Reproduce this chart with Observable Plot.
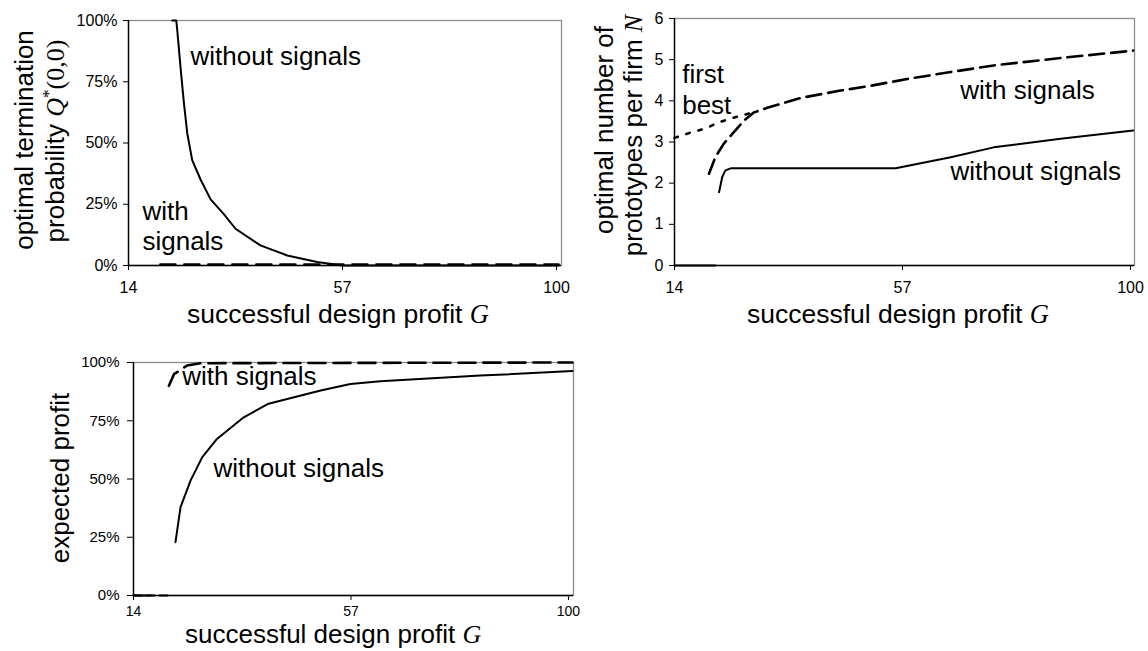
<!DOCTYPE html>
<html><head><meta charset="utf-8">
<script src="https://cdn.jsdelivr.net/npm/d3@7"></script>
<script src="https://cdn.jsdelivr.net/npm/@observablehq/plot@0.6"></script>
<style>
body{margin:0;background:#fff;}
#wrap{position:relative;width:1148px;height:651px;overflow:hidden;background:#fff;}
#wrap svg{position:absolute;}
</style></head><body><div id="wrap"></div>
<script>
const FONT = '"Liberation Sans", Arial, sans-serif';
const SERIF = '"Liberation Serif", "Times New Roman", serif';

// ---------- shared ----------
const xTickValues = [14, 57, 100];
const pctTicks = [0, 25, 50, 75, 100];
const nTicks = [0, 1, 2, 3, 4, 5, 6];

// ---------- Panel 1: optimal termination probability Q*(0,0) (%) ----------
const p1WithoutG = [22.8, 23.6, 23.8, 24.45, 25.1, 25.8, 26.8, 28.5, 30.5, 33.15, 35.5, 40.5, 45.9, 51.9, 57, 100.4];
const p1WithoutQ = [100, 100, 96, 81, 67, 54, 43, 35, 27, 21, 15, 8.2, 4.1, 1.4, 0, 0];
const p1WithG = [20.4, 100.4];
const p1WithQ = [0, 0];

// ---------- Panel 2: optimal number of prototypes per firm N ----------
const p2FirstBestG = [14, 17.3, 19.9, 22.4, 24.9, 27.1, 28.3];
const p2FirstBestN = [3.1, 3.24, 3.33, 3.48, 3.58, 3.66, 3.7];
const p2WithG = [20.5, 21.7, 23.3, 25.2, 27.1, 29, 31.5, 37.8, 45.3, 50.3, 57.9, 66.1, 74.2, 86.8, 100.5];
const p2WithN = [2.23, 2.63, 2.96, 3.24, 3.52, 3.72, 3.83, 4.07, 4.25, 4.35, 4.53, 4.7, 4.86, 5.04, 5.22];
const p2WithoutG = [22.4, 23, 23.6, 24.6, 55.7, 66.1, 74.2, 86.8, 100.5];
const p2WithoutN = [1.78, 2.15, 2.31, 2.36, 2.36, 2.63, 2.87, 3.08, 3.28];
const p2ZeroG = [14, 21.7];
const p2ZeroN = [0, 0];

// ---------- Panel 3: expected profit (%) ----------
const p3WithoutG = [22.3, 23.3, 25.3, 27.6, 30.5, 35.8, 40.7, 51, 56.9, 62.8, 82.6, 100.8];
const p3WithoutP = [22.9, 37.9, 49.4, 59.4, 67.2, 76.5, 82.3, 88, 90.8, 92, 94.4, 96.3];
const p3WithG = [21, 22, 24.6, 27.2, 100.8];
const p3WithP = [90, 95, 98.7, 99.7, 100];
const p3ZeroSolidG = [14, 17.5];
const p3ZeroDashG = [14, 21.6];
const p3ZeroP = [0, 0];

// ---------- annotation labels ----------
const p1Labels = [
  {x: 26.46, y: 85.8, text: "without signals"},
  {x: 16.8, y: 16.4, text: "with\nsignals"}
];
const p2Labels = [
  {x: 15.45, y: 4.30, text: "first\nbest"},
  {x: 67.9, y: 4.29, text: "with signals"},
  {x: 66.05, y: 2.31, text: "without signals"}
];
const p3Labels = [
  {x: 23.63, y: 94.5, text: "with signals"},
  {x: 29.8, y: 55.1, text: "without signals"}
];

const pts = (xs, ys) => xs.map((x, i) => ({x, y: ys[i]}));
const wrap = document.getElementById("wrap");

function frameMarks(xMin) {
  return [
    Plot.frame({stroke: "#8c8c8c", strokeWidth: 1.3}),
    Plot.ruleX([xMin], {stroke: "#000", strokeWidth: 1.4}),
    Plot.ruleY([0], {stroke: "#000", strokeWidth: 1.4})
  ];
}

function place(svg, left, top) {
  svg.style.left = left + "px";
  svg.style.top = top + "px";
  wrap.appendChild(svg);
}

function addXTitle(svg, x, y, size) {
  const t = d3.select(svg).append("text")
    .attr("x", x).attr("y", y).attr("text-anchor", "start")
    .attr("font-family", FONT).attr("font-size", size).attr("fill", "#000");
  t.append("tspan").text("successful design profit ");
  t.append("tspan").attr("font-family", SERIF).attr("font-style", "italic").text("G");
}

const baseStyle = {fontFamily: FONT, fontSize: "16px", color: "#000", background: "transparent", overflow: "visible"};
const textOpts = {textAnchor: "start", lineAnchor: "middle", fontSize: 26, fontFamily: FONT, fill: "#000", lineHeight: 1.16};

// ---------- Panel 1 ----------
const svg1 = Plot.plot({
  width: 574, height: 340,
  marginTop: 20, marginLeft: 128, marginRight: 13, marginBottom: 75,
  style: baseStyle,
  x: {domain: [14, 101]},
  y: {domain: [0, 100]},
  marks: [
    ...frameMarks(14),
    Plot.axisX({ticks: xTickValues, tickSize: 5, tickPadding: 11, fontSize: 16, label: null}),
    Plot.axisY({ticks: pctTicks, tickFormat: d => d + "%", tickSize: 5, tickPadding: 6, fontSize: 16, label: null}),
    Plot.line(pts(p1WithG, p1WithQ), {x: "x", y: "y", stroke: "#000", strokeWidth: 2.6, strokeDasharray: "15,9", dy: -1}),
    Plot.line(pts(p1WithoutG, p1WithoutQ), {x: "x", y: "y", stroke: "#000", strokeWidth: 2}),
    Plot.text(p1Labels, {x: "x", y: "y", text: "text", ...textOpts, lineHeight: 1.15})
  ]
});
place(svg1, 0, 0);
{
  const s = d3.select(svg1);
  s.append("text").attr("transform", "translate(33.4,140) rotate(-90)")
    .attr("text-anchor", "middle").attr("font-family", FONT).attr("font-size", 26).attr("fill", "#000")
    .text("optimal termination");
  const t = s.append("text").attr("transform", "translate(64,141) rotate(-90)")
    .attr("text-anchor", "middle").attr("font-family", FONT).attr("font-size", 26).attr("fill", "#000");
  t.append("tspan").text("probability ");
  t.append("tspan").attr("font-family", SERIF).attr("font-style", "italic").text("Q");
  t.append("tspan").attr("font-family", SERIF).attr("font-size", 17).attr("dy", -10).text("*");
  t.append("tspan").attr("font-family", SERIF).attr("dy", 10).text("(0,0)");
  addXTitle(svg1, 187, 323, 26.5);
}

// ---------- Panel 2 ----------
const svg2 = Plot.plot({
  width: 574, height: 340,
  marginTop: 18, marginLeft: 100, marginRight: 14, marginBottom: 75,
  style: baseStyle,
  x: {domain: [14, 100.75]},
  y: {domain: [0, 6]},
  marks: [
    ...frameMarks(14),
    Plot.axisX({ticks: xTickValues, tickSize: 5, tickPadding: 11, fontSize: 16, label: null}),
    Plot.axisY({ticks: nTicks, tickFormat: d => String(d), tickSize: 5, tickPadding: 6, fontSize: 16, label: null}),
    Plot.line(pts(p2ZeroG, p2ZeroN), {x: "x", y: "y", stroke: "#000", strokeWidth: 2}),
    Plot.line(pts(p2FirstBestG, p2FirstBestN), {x: "x", y: "y", stroke: "#000", strokeWidth: 2.6, strokeDasharray: "3.5,9"}),
    Plot.line(pts(p2WithG, p2WithN), {x: "x", y: "y", stroke: "#000", strokeWidth: 2.6, strokeDasharray: "15,7"}),
    Plot.line(pts(p2WithoutG, p2WithoutN), {x: "x", y: "y", stroke: "#000", strokeWidth: 2}),
    Plot.text(p2Labels, {x: "x", y: "y", text: "text", ...textOpts, lineHeight: 1.18})
  ]
});
place(svg2, 574, 0);
{
  const s = d3.select(svg2);
  s.append("text").attr("transform", "translate(38.5,130) rotate(-90)")
    .attr("text-anchor", "middle").attr("font-family", FONT).attr("font-size", 26).attr("fill", "#000")
    .text("optimal number of");
  const t = s.append("text").attr("transform", "translate(67.8,135.5) rotate(-90)")
    .attr("text-anchor", "middle").attr("font-family", FONT).attr("font-size", 26).attr("fill", "#000");
  t.append("tspan").text("prototypes per firm ");
  t.append("tspan").attr("font-family", SERIF).attr("font-style", "italic").text("N");
  addXTitle(svg2, 173, 323, 26.5);
}

// ---------- Panel 3 ----------
const svg3 = Plot.plot({
  width: 580, height: 311,
  marginTop: 22, marginLeft: 133, marginRight: 7, marginBottom: 56,
  style: baseStyle,
  x: {domain: [14, 101]},
  y: {domain: [0, 100]},
  marks: [
    ...frameMarks(14),
    Plot.axisX({ticks: xTickValues, tickSize: 5, tickPadding: 6, fontSize: 14, label: null}),
    Plot.axisY({ticks: pctTicks, tickFormat: d => d + "%", tickSize: 6, tickPadding: 8, fontSize: 15, label: null}),
    Plot.line(pts(p3ZeroSolidG, p3ZeroP), {x: "x", y: "y", stroke: "#000", strokeWidth: 2}),
    Plot.line(pts(p3ZeroDashG, p3ZeroP), {x: "x", y: "y", stroke: "#000", strokeWidth: 2, strokeDasharray: "8,5"}),
    Plot.line(pts(p3WithG, p3WithP), {x: "x", y: "y", stroke: "#000", strokeWidth: 2.6, strokeDasharray: "17,8"}),
    Plot.line(pts(p3WithoutG, p3WithoutP), {x: "x", y: "y", stroke: "#000", strokeWidth: 2}),
    Plot.text(p3Labels, {x: "x", y: "y", text: "text", ...textOpts})
  ]
});
place(svg3, 0, 340);
{
  const s = d3.select(svg3);
  s.append("text").attr("transform", "translate(69,138) rotate(-90)")
    .attr("text-anchor", "middle").attr("font-family", FONT).attr("font-size", 26).attr("fill", "#000")
    .text("expected profit");
  addXTitle(svg3, 185, 303, 26);
}
</script>
</body></html>
